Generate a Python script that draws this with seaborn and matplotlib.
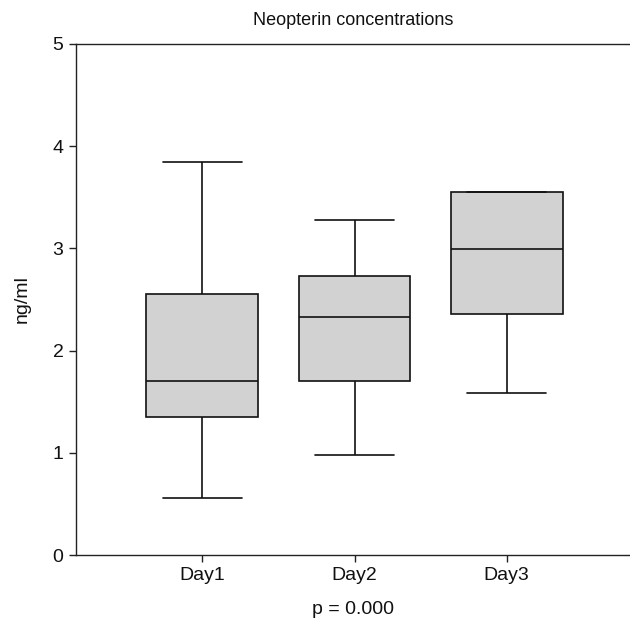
import numpy as np
import pandas as pd
import seaborn as sns
import matplotlib
matplotlib.use("Agg")
import matplotlib.pyplot as plt

# Five-number summaries (min, Q1, median, Q3, max)
days = ["Day1", "Day2", "Day3"]
day1 = [0.56, 1.35, 1.70, 2.55, 3.85]
day2 = [0.98, 1.70, 2.33, 2.73, 3.28]
day3 = [1.59, 2.36, 2.99, 3.55, 3.55]
y_ticks = [0, 1, 2, 3, 4, 5]

df = pd.DataFrame({
    "day": np.repeat(days, 5),
    "value": day1 + day2 + day3,
})

sns.set_theme(style="white")
plt.rcParams["font.family"] = ["Liberation Sans", "DejaVu Sans"]

fig = plt.figure(figsize=(6.3, 6.25), dpi=100)
ax = fig.add_axes([0.1206, 0.112, 0.8794, 0.8176])

sns.boxplot(
    data=df, x="day", y="value", order=days, ax=ax,
    whis=(0, 100), width=0.735, color="#d2d2d2", saturation=1,
    linecolor="#111111", linewidth=1.2, showfliers=False,
    capwidths=0.52,
    medianprops=dict(color="#111111", linewidth=1.2),
)

ax.set_xlim(-0.83, 2.81)
ax.set_ylim(0, 5)
ax.set_yticks(y_ticks)
ax.set_yticklabels([str(t) for t in y_ticks])

for s in ["top", "left", "bottom"]:
    ax.spines[s].set_visible(True)
    ax.spines[s].set_color("#222222")
    ax.spines[s].set_linewidth(1.0)
ax.spines["right"].set_visible(False)

ax.tick_params(axis="both", which="major", direction="out", length=5,
               width=1.0, color="#222222", labelsize=14,
               left=True, bottom=True, labelcolor="#111111")
ax.tick_params(axis="x", pad=4)
ax.tick_params(axis="y", pad=4)

ax.set_title("Neopterin concentrations", fontsize=13, pad=14, color="#111111")
ax.set_ylabel("ng/ml", fontsize=14, labelpad=16, color="#111111")
ax.set_xlabel("p = 0.000", fontsize=14, labelpad=12, color="#111111")

fig.savefig("out.png", dpi=100)
